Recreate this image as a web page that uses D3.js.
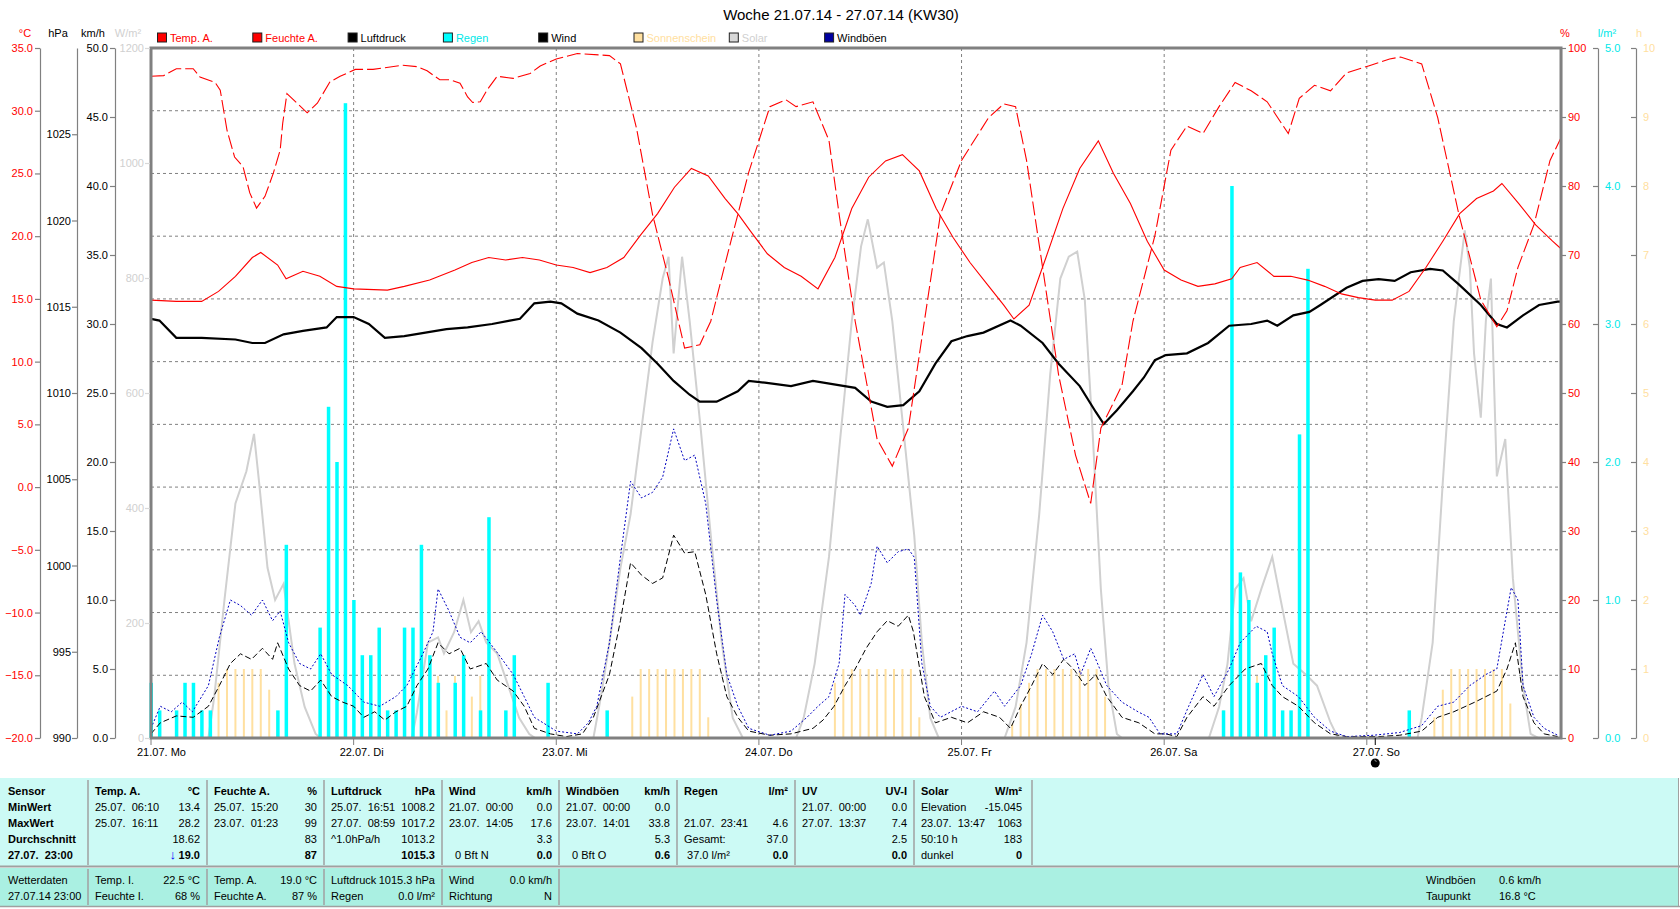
<!DOCTYPE html>
<html><head><meta charset="utf-8">
<script src="https://cdn.jsdelivr.net/npm/d3@7"></script>
<style>
body{margin:0;background:#fff;}
svg{display:block;}
text{font-family:"Liberation Sans",Arial,sans-serif;white-space:pre;}
</style>
</head><body>
<svg id="c" width="1680" height="909"></svg>
<script>
// ---------------- DATA ----------------
const title = "Woche 21.07.14 - 27.07.14 (KW30)";
const dayLabels = ["21.07. Mo","22.07. Di","23.07. Mi","24.07. Do","25.07. Fr","26.07. Sa","27.07. So"];
const totalHours = 167;

const tempA = [[0,14.9],[3,14.8],[6,14.8],[8,15.6],[10,16.8],[12,18.3],[13,18.7],[15,17.7],[16,16.6],[18,17.2],[20,16.8],[22,16.0],[24,15.8],[28,15.7],[30,16.0],[33,16.5],[36,17.3],[38,17.9],[40,18.3],[42,18.1],[44,18.3],[46,18.1],[48,17.7],[50,17.5],[52,17.1],[54,17.5],[56,18.3],[58,20.1],[60,21.8],[62,23.9],[64,25.4],[66,24.8],[68,23.0],[69.5,21.8],[71,20.4],[73,18.6],[75,17.5],[77,16.8],[79,15.8],[81,18.3],[83,22.2],[85,24.7],[87,26.0],[89,26.5],[91,25.2],[93,22.2],[95,19.9],[97,17.9],[99,16.2],[101,14.5],[102.2,13.4],[104,14.5],[106,18.3],[108,22.2],[110,25.4],[112.2,27.6],[114,25.0],[116,22.6],[118,19.6],[120,17.3],[122,16.5],[124,16.0],[126,16.2],[128,16.6],[129,17.5],[131,17.9],[133,16.8],[135,16.8],[137,16.5],[139,16.0],[141,15.4],[143,15.1],[145,14.9],[147,14.9],[149,15.6],[151,17.5],[153,19.6],[155,21.8],[157,23.0],[159,23.6],[160,24.2],[162,22.6],[164,20.9],[166,19.6],[167,19.0]];

const humA = [[0,95.9],[1.5,96.0],[3,97],[5,97],[5.8,95.8],[7.6,95],[8.2,93.9],[9,88.1],[9.9,84.2],[10.9,82.8],[11.7,79],[12.5,76.8],[13.5,78.5],[14.5,81.9],[15.3,85.2],[15.6,89.1],[16.1,93.4],[17.3,92],[18.5,90.6],[19.7,92],[21.2,95.1],[22.4,95.9],[24.2,96.9],[26.3,96.9],[29.8,97.5],[31.5,97.3],[32.7,96.7],[34.2,95.4],[35.4,95.4],[36.6,94.9],[37.5,92.9],[38.1,92.1],[39,92.2],[39.8,93.9],[41,95.9],[42.9,95.6],[44.9,96.3],[46.1,97.4],[48,98.4],[50.5,99.2],[54.3,98.9],[55.6,97.7],[57.5,88.4],[59.4,75.9],[61.3,66.6],[63.2,56.5],[65,57],[66.3,60.4],[68.2,69.7],[70.8,82],[73.3,91.5],[75.2,92.5],[76.4,91.5],[78.4,92.2],[80.3,86.6],[81.5,75.9],[83.4,60.4],[86,43.3],[87.8,39.4],[89.7,44.9],[91.6,60.4],[93.5,75.9],[96,83.7],[99.2,89.9],[101,91.9],[102.4,91.5],[103.7,83.7],[105.6,68.2],[107.5,52.6],[109.5,41],[111.3,34],[112.5,44.9],[115,51.1],[116.3,60.4],[118.9,72.8],[120.8,85.2],[122.7,88.7],[124.6,87.6],[126.5,91.5],[128.4,95],[130.3,93.8],[132.2,92.2],[134.7,87.6],[136,92.7],[137.8,94.6],[139.7,93.8],[141.6,96.4],[144.2,97.4],[146.7,98.4],[148,98.7],[150.5,97.7],[152.4,89.9],[154.9,75.9],[157.5,63.5],[159.4,59.6],[160.6,61.9],[161.9,68.2],[163.8,74.4],[165.7,83.7],[167,87]];

const pressure = [[0,1014.3],[1,1014.2],[3,1013.2],[6,1013.2],[10,1013.1],[12,1012.9],[13.5,1012.9],[15.7,1013.4],[18,1013.6],[20.8,1013.8],[22,1014.4],[24,1014.4],[25.8,1014.0],[27.7,1013.2],[30,1013.3],[32.5,1013.5],[35,1013.7],[37.5,1013.8],[40.4,1014.0],[42.5,1014.2],[43.7,1014.3],[45.4,1015.2],[47.3,1015.3],[48.6,1015.2],[50.5,1014.6],[53,1014.2],[55.6,1013.5],[58.1,1012.6],[60,1011.7],[61.9,1010.7],[63.8,1009.9],[65,1009.5],[67,1009.5],[69.5,1010.1],[70.8,1010.7],[72.7,1010.6],[75.8,1010.4],[78.4,1010.7],[80.9,1010.5],[83.4,1010.3],[85.3,1009.5],[87.2,1009.2],[89.1,1009.3],[91,1010.1],[92.9,1011.7],[94.8,1013.0],[96.7,1013.3],[98.6,1013.5],[101.8,1014.2],[103,1013.9],[105.6,1012.9],[107.5,1011.7],[110,1010.4],[111.9,1008.9],[112.85,1008.2],[114.4,1009.0],[116.3,1010.1],[117.6,1010.9],[118.9,1011.9],[120.2,1012.2],[122.7,1012.3],[125.2,1012.9],[127.7,1013.9],[130.3,1014.0],[132.2,1014.2],[133.4,1013.9],[135.3,1014.5],[137.2,1014.7],[138.5,1015.1],[141.6,1016.1],[143.5,1016.5],[145.4,1016.6],[147.3,1016.5],[149.2,1017.0],[151.5,1017.2],[153,1017.1],[154.9,1016.3],[157.5,1015.1],[159.4,1014.0],[160.6,1013.8],[162.5,1014.5],[164.4,1015.1],[166.6,1015.3],[167,1015.3]];

const wind = [[0,0.3],[1.1,1.1],[3,1.6],[5,1.5],[6.8,2.3],[8.1,3.8],[9.4,5.4],[10.6,6.1],[11.9,5.7],[13.2,6.5],[14.4,5.7],[15,6.9],[16.3,5.0],[17.6,3.8],[18.9,3.4],[20.1,4.2],[21.4,3.0],[22.7,2.6],[24,2.3],[25.2,1.5],[26.5,1.9],[27.7,1.3],[29,1.9],[30.3,2.3],[31.5,3.8],[32.8,5.0],[34,6.9],[35.3,6.1],[36.6,6.5],[37.8,5.0],[39.7,5.4],[41,4.2],[42.9,3.4],[44.2,2.3],[45.4,0.7],[47.3,0.3],[49.2,0.1],[51.1,0.3],[52.4,1.5],[54.3,4.6],[55.6,8.5],[56.8,12.7],[58.1,11.8],[59.4,11.2],[60.6,11.6],[61.9,14.7],[63.2,13.4],[64.4,13.5],[65.7,10.4],[67,6.1],[68.2,3.0],[69.5,1.5],[70.8,0.5],[73.3,0.2],[75.8,0.3],[78.4,0.7],[79.6,1.3],[80.9,2.3],[82.2,3.8],[83.4,5.0],[84.7,6.5],[86,7.7],[87.2,8.5],[88.5,8.1],[89.7,8.9],[90.3,7.7],[91.6,3.0],[92.9,1.1],[94.8,1.5],[96.7,1.1],[98.6,1.9],[100.5,1.5],[101.8,0.7],[103,2.3],[104.3,3.8],[105.6,5.4],[106.8,4.6],[108.1,5.7],[109.4,4.9],[110.6,3.8],[111.9,4.6],[113.2,3.0],[115,1.5],[117,1.1],[118.9,0.3],[120.2,0.3],[121.5,0.1],[122.7,1.5],[124.6,3.0],[125.9,2.3],[127.7,3.8],[129.6,5.0],[131.5,5.4],[132.8,3.8],[134,3.0],[135.9,2.3],[137.8,1.1],[139.7,0.3],[141.6,0.1],[145.4,0.1],[147.9,0.2],[150.5,0.5],[152.4,1.5],[154.3,1.9],[156.8,2.6],[159.4,3.4],[160.6,5.0],[161.6,6.9],[162.5,3.0],[163.8,1.1],[165,0.3],[166.6,0.1]];

const gusts = [[0,0.7],[1.1,2.3],[2.4,1.9],[3.7,2.6],[4.9,1.9],[6.8,3.8],[8.1,7.3],[9.4,10.0],[10.6,9.6],[11.9,8.9],[13.2,10.0],[14.4,8.5],[15.3,9.2],[16.3,6.9],[17.6,5.4],[18.9,5.0],[20.1,6.1],[21.4,4.6],[23.3,3.8],[25.2,2.6],[27.1,2.3],[29,3.0],[30.3,3.8],[32.2,6.1],[33.4,7.7],[34,10.8],[35.3,9.2],[36.6,7.3],[37.8,6.9],[39.1,7.7],[41,6.2],[42.9,4.6],[44.2,3.0],[45.4,1.5],[48,0.5],[50.5,0.3],[51.8,1.1],[52.8,2.3],[54.3,6.9],[55.6,13.1],[56.8,18.6],[58.1,17.4],[59.4,17.8],[60.6,18.9],[61.9,22.4],[63.2,20.1],[64.4,20.5],[65.7,17.0],[67,10.0],[68.2,4.6],[69.5,2.3],[70.8,0.7],[73.3,0.2],[75.8,0.5],[77.7,1.5],[79,2.3],[80.3,3.0],[81.5,5.4],[82.2,10.4],[83.4,9.6],[84,8.9],[85.3,11.2],[86,13.9],[87.2,12.7],[88.5,13.5],[89.7,13.7],[90.4,13.1],[91.3,5.4],[92.3,2.3],[93.5,1.5],[96,2.3],[97.9,1.9],[99.9,3.4],[101.1,2.3],[103,3.8],[104.3,6.1],[105.6,8.9],[106.8,7.7],[108.1,5.7],[109.4,6.1],[110.1,4.6],[111.3,6.5],[111.9,5.7],[113.2,3.8],[115,2.6],[116.9,1.9],[118.2,1.5],[119.5,0.3],[121.5,0.3],[122.9,2.3],[124.6,4.6],[125.9,3.0],[127.7,5.0],[129,6.9],[130.9,8.1],[132.2,7.7],[132.8,6.1],[134,3.8],[135.9,3.0],[137.8,1.5],[139.7,0.5],[141.6,0.1],[144.8,0.2],[147.9,0.4],[150.5,0.9],[152.4,2.3],[154.3,2.6],[156.2,3.8],[158.1,4.6],[159.4,5.0],[160.4,8.5],[161.1,10.9],[161.9,10.0],[162.5,3.8],[163.8,1.5],[165,0.7],[166.6,0.2]];

const solar = [[0,0],[6.8,0],[7.5,73],[8.7,240],[10,408],[11.3,464],[12.2,529],[12.8,445],[13.8,296],[14.7,240],[15.7,268],[17,129],[18.2,54],[19.5,7],[20.1,0],[30.9,0],[31.5,45],[32.8,166],[34,175],[34.7,147],[35.9,184],[37,240],[37.9,184],[38.8,203],[39.7,166],[41,147],[42.3,91],[43.6,35],[44.8,7],[45.5,0],[52.4,0],[53.3,73],[54.3,166],[55.6,296],[56.8,389],[58.1,539],[59.4,688],[60.6,799],[61.3,837],[61.9,669],[62.9,837],[63.8,725],[65.1,539],[66.3,352],[67.6,166],[68.9,35],[70.1,0],[76.4,0],[77.3,35],[78.6,129],[80.3,315],[81.5,501],[83,725],[84.1,855],[84.9,902],[86,818],[86.8,827],[87.8,725],[89.1,539],[90.4,352],[91.3,166],[92.3,35],[93.3,0],[101.1,0],[102.4,54],[103.7,166],[105.2,389],[106.5,632],[107.7,799],[108.7,837],[109.7,846],[110.6,762],[111.5,539],[112.5,259],[113.4,91],[114.4,7],[115,0],[125.3,0],[126.5,54],[127.5,129],[128.4,259],[129.4,278],[130.3,203],[131.5,259],[132.8,315],[133.8,240],[135.3,129],[136.8,110],[138.1,91],[139.7,27],[140.6,0],[150,0],[150.5,35],[151.8,166],[153,445],[154.3,725],[155.6,883],[156.2,818],[156.7,669],[157.5,557],[158.1,725],[158.7,799],[159.4,455],[160.4,520],[161.3,278],[162.5,91],[163.4,7],[164.3,0],[167,0]];

const rainHours = [0,1,3,4,5,6,7,15,16,20,21,22,23,24,25,26,27,28,29,30,31,32,33,34,36,37,39,40,42,43,47,54,127,128,129,130,131,132,133,134,135,136,137,149];
const rainValues = [0.4,0.2,0.2,0.4,0.4,0.2,0.2,0.2,1.4,0.8,2.4,2.0,4.6,1.0,0.6,0.6,0.8,0.2,0.2,0.8,0.8,1.4,0.6,0.4,0.4,0.6,0.2,1.6,0.2,0.6,0.4,0.2,0.2,4.0,1.2,1.0,0.4,0.6,0.8,0.2,0.2,2.2,3.4,0.2];

const sunHours = [8,9,10,11,12,13,14,15,32,33,34,35,36,37,38,39,40,57,58,59,60,61,62,63,64,65,66,81,82,83,84,85,86,87,88,89,90,91,102,103,104,105,106,107,108,109,110,111,112,113,127,128,129,130,131,132,133,134,152,153,154,155,156,157,158,159,160,161];
const sunValues = [0.8,1,1,1,1,1,0.7,0.3,0.6,0.6,0.9,0.4,0.9,0.3,0.6,0.9,0.4,0.6,1,1,1,1,1,1,1,1,0.3,0.8,1,1,1,1,1,1,1,1,1,0.3,0.2,0.5,0.8,1,1,1,1,1,1,1,1,0.6,0.4,0.8,0.9,0.8,0.9,0.8,0.5,0.3,0.3,0.7,1,1,1,1,1,1,1,0.5];

const legendNames = ["Temp. A.","Feuchte A.","Luftdruck","Regen","Wind","Sonnenschein","Solar","Windböen"];
const legendFill = ["#ff0000","#ff0000","#000000","#00ffff","#000000","#ffe0a0","#d8d8d8","#0000a0"];
const legendText = ["#ff0000","#ff0000","#000000","#00e8e8","#000000","#ffe0a0","#d0d0d0","#000000"];

// table
const colEdges = [0,88,207,324,442,559,677,795,914,1032];
const headRow = [["Sensor",""],["Temp. A.","°C"],["Feuchte A.","%"],["Luftdruck","hPa"],["Wind","km/h"],["Windböen","km/h"],["Regen","l/m²"],["UV","UV-I"],["Solar","W/m²"]];
const minRow = [["MinWert",""],["25.07.  06:10","13.4"],["25.07.  15:20","30"],["25.07.  16:51","1008.2"],["21.07.  00:00","0.0"],["21.07.  00:00","0.0"],["",""],["21.07.  00:00","0.0"],["Elevation","-15.045"]];
const maxRow = [["MaxWert",""],["25.07.  16:11","28.2"],["23.07.  01:23","99"],["27.07.  08:59","1017.2"],["23.07.  14:05","17.6"],["23.07.  14:01","33.8"],["21.07.  23:41","4.6"],["27.07.  13:37","7.4"],["23.07.  13:47","1063"]];
const avgRow = [["Durchschnitt",""],["","18.62"],["","83"],["^1.0hPa/h","1013.2"],["","3.3"],["","5.3"],["Gesamt:","37.0"],["","2.5"],["50:10 h","183"]];
const curRow = [["27.07.  23:00",""],["","19.0"],["","87"],["","1015.3"],["  0 Bft N","0.0"],["  0 Bft O","0.6"],[" 37.0 l/m²","0.0"],["","0.0"],["dunkel","0"]];
const infoEdges = [0,88,207,324,442,559];
const infoRow1 = [["Wetterdaten",""],["Temp. I.","22.5 °C"],["Temp. A.","19.0 °C"],["Luftdruck","1015.3 hPa"],["Wind","0.0 km/h"]];
const infoRow2 = [["27.07.14 23:00",""],["Feuchte I.","68 %"],["Feuchte A.","87 %"],["Regen","0.0 l/m²"],["Richtung","N"]];
const extraLabels = ["Windböen","Taupunkt"];
const extraValues = ["0.6 km/h","16.8 °C"];

// ---------------- DRAW ----------------
const FONT = '"Liberation Sans",Arial,sans-serif';
const svg = d3.select("#c");
const X0 = 151, X1 = 1561, Y0 = 48, Y1 = 738;
const x = d3.scaleLinear().domain([0, totalHours]).range([X0, X1]);
const yT = d3.scaleLinear().domain([-20, 35]).range([Y1, Y0]);
const yP = d3.scaleLinear().domain([990, 1030]).range([Y1, Y0]);
const yW = d3.scaleLinear().domain([0, 50]).range([Y1, Y0]);
const yS = d3.scaleLinear().domain([0, 1200]).range([Y1, Y0]);
const yH = d3.scaleLinear().domain([0, 100]).range([Y1, Y0]);
const yR = d3.scaleLinear().domain([0, 5]).range([Y1, Y0]);
const ySun = d3.scaleLinear().domain([0, 10]).range([Y1, Y0]);

// title
svg.append("text").attr("x", 841).attr("y", 20).attr("text-anchor", "middle")
  .attr("font-size", 15).attr("fill", "#000").text(title);

// unit labels
const units = [["°C", 25, "#ff0000"], ["hPa", 58, "#000"], ["km/h", 93, "#000"], ["W/m²", 128, "#d0d0d0"],
               ["%", 1565, "#ff0000"], ["l/m²", 1607, "#00e8e8"], ["h", 1639, "#ffe0a0"]];
units.forEach(u => svg.append("text").attr("x", u[1]).attr("y", 37).attr("text-anchor", "middle")
  .attr("font-size", 11).attr("fill", u[2]).text(u[0]));

// legend
legendNames.forEach((n, i) => {
  const lx = 162 + i * 95.3;
  svg.append("rect").attr("x", lx - 4.5).attr("y", 33).attr("width", 9).attr("height", 9)
    .attr("fill", legendFill[i]).attr("stroke", "#202020").attr("stroke-width", 1);
  svg.append("text").attr("x", lx + 8).attr("y", 41.5).attr("font-size", 11)
    .attr("fill", legendText[i]).text(n);
});

// gridlines
const grid = svg.append("g");
d3.range(-15, 35, 5).forEach(t => grid.append("line").attr("x1", X0).attr("x2", X1)
  .attr("y1", yT(t)).attr("y2", yT(t)).attr("stroke", "#808080").attr("stroke-dasharray", "3,3"));
d3.range(24, totalHours, 24).forEach(h => grid.append("line").attr("x1", x(h)).attr("x2", x(h))
  .attr("y1", Y0).attr("y2", Y1).attr("stroke", "#808080").attr("stroke-dasharray", "3,3"));

// sunshine bars
svg.append("g").selectAll("rect").data(sunHours).join("rect")
  .attr("x", (h) => x(h) - 1).attr("width", 2)
  .attr("y", (h, i) => ySun(sunValues[i])).attr("height", (h, i) => Y1 - ySun(sunValues[i]))
  .attr("fill", "#ffe0a0");

// solar line
const line = (ys) => d3.line().x(d => x(d[0])).y(d => ys(d[1]));
svg.append("path").datum(solar).attr("d", line(yS)).attr("fill", "none")
  .attr("stroke", "#d0d0d0").attr("stroke-width", 2);

// rain bars
svg.append("g").selectAll("rect").data(rainHours).join("rect")
  .attr("x", (h) => x(h) - 1.5).attr("width", 3.5)
  .attr("y", (h, i) => yR(rainValues[i])).attr("height", (h, i) => Y1 - yR(rainValues[i]))
  .attr("fill", "#00ffff");

// wind & gusts
svg.append("path").datum(wind).attr("d", line(yW)).attr("fill", "none")
  .attr("stroke", "#000").attr("stroke-width", 1).attr("stroke-dasharray", "6,3");
svg.append("path").datum(gusts).attr("d", line(yW)).attr("fill", "none")
  .attr("stroke", "#0000c0").attr("stroke-width", 1).attr("stroke-dasharray", "2,2");

// pressure
svg.append("path").datum(pressure).attr("d", line(yP)).attr("fill", "none")
  .attr("stroke", "#000").attr("stroke-width", 2.2);

// temp & humidity
svg.append("path").datum(tempA).attr("d", line(yT)).attr("fill", "none")
  .attr("stroke", "#ff0000").attr("stroke-width", 1.1);
svg.append("path").datum(humA).attr("d", line(yH)).attr("fill", "none")
  .attr("stroke", "#ff0000").attr("stroke-width", 1.1).attr("stroke-dasharray", "14,4");

// frame
svg.append("rect").attr("x", X0).attr("y", Y0).attr("width", X1 - X0).attr("height", Y1 - Y0)
  .attr("fill", "none").attr("stroke", "#808080").attr("stroke-width", 3);

// axes
function styleAxis(g, lc, tc) {
  g.attr("font-size", 11).attr("font-family", FONT);
  g.selectAll("path.domain").attr("stroke", lc).attr("stroke-width", 1.2);
  g.selectAll(".tick line").attr("stroke", lc).attr("stroke-width", 1.2);
  g.selectAll(".tick text").attr("fill", tc);
}
const f1 = d3.format(".1f");
styleAxis(svg.append("g").attr("transform", "translate(40,0)")
  .call(d3.axisLeft(yT).tickValues(d3.range(-20, 36, 5)).tickFormat(f1).tickSizeInner(5).tickSizeOuter(0).tickPadding(2)),
  "#808080", "#ff0000");
styleAxis(svg.append("g").attr("transform", "translate(77,0)")
  .call(d3.axisLeft(yP).tickValues(d3.range(990, 1026, 5)).tickFormat(d3.format("d")).tickSizeInner(5).tickSizeOuter(0).tickPadding(1)),
  "#808080", "#000");
styleAxis(svg.append("g").attr("transform", "translate(115,0)")
  .call(d3.axisLeft(yW).tickValues(d3.range(0, 51, 5)).tickFormat(f1).tickSizeInner(5).tickSizeOuter(0).tickPadding(2)),
  "#808080", "#000");
const gS = svg.append("g").attr("transform", "translate(150,0)")
  .call(d3.axisLeft(yS).tickValues(d3.range(0, 1201, 200)).tickFormat(d3.format("d")).tickSizeInner(5).tickSizeOuter(0).tickPadding(1));
styleAxis(gS, "#d8d8d8", "#d0d0d0");
gS.select("path.domain").remove();
styleAxis(svg.append("g").attr("transform", "translate(1561,0)")
  .call(d3.axisRight(yH).tickValues(d3.range(0, 101, 10)).tickFormat(d3.format("d")).tickSizeInner(5).tickSizeOuter(0).tickPadding(2)),
  "#808080", "#ff0000");
styleAxis(svg.append("g").attr("transform", "translate(1598,0)")
  .call(d3.axisRight(yR).tickValues(d3.range(0, 5.01, 1)).tickFormat(f1).tickSizeInner(-5).tickSizeOuter(0).tickPadding(7)),
  "#808080", "#00e8e8");
styleAxis(svg.append("g").attr("transform", "translate(1636,0)")
  .call(d3.axisRight(ySun).tickValues(d3.range(0, 11, 1)).tickFormat(d3.format("d")).tickSizeInner(-5).tickSizeOuter(0).tickPadding(7)),
  "#808080", "#ffe0a0");

// x axis
const xa = svg.append("g");
dayLabels.forEach((lab, i) => {
  const px = x(i * 24);
  xa.append("line").attr("x1", px).attr("x2", px).attr("y1", Y1).attr("y2", Y1 + 7).attr("stroke", "#808080");
  xa.append("text").attr("x", px - 14).attr("y", 756).attr("font-size", 11).attr("fill", "#000").text(lab);
});
// moon phase marker
const moonX = x(145);
xa.append("line").attr("x1", moonX).attr("x2", moonX).attr("y1", Y1).attr("y2", Y1 + 7).attr("stroke", "#000");
xa.append("circle").attr("cx", moonX).attr("cy", 763).attr("r", 4.5).attr("fill", "#000");
xa.append("path").attr("d", `M${moonX - 1},${760} a2,2 0 0,1 2,2`).attr("stroke", "#888").attr("fill", "none");

// ---------------- TABLE ----------------
const tbl = svg.append("g").attr("font-size", 11).attr("font-family", FONT);
tbl.append("rect").attr("x", 0).attr("y", 778).attr("width", 1679).attr("height", 88).attr("fill", "#ccfaf5");
tbl.append("rect").attr("x", 0).attr("y", 868).attr("width", 1679).attr("height", 38).attr("fill", "#aaf0e2");
tbl.append("line").attr("x1", 0).attr("x2", 1680).attr("y1", 866.5).attr("y2", 866.5).attr("stroke", "#a0a0a0").attr("stroke-width", 2);
tbl.append("line").attr("x1", 0).attr("x2", 1680).attr("y1", 906.5).attr("y2", 906.5).attr("stroke", "#a0a0a0").attr("stroke-width", 1.5);
tbl.append("line").attr("x1", 1678.5).attr("x2", 1678.5).attr("y1", 778).attr("y2", 907).attr("stroke", "#a0a0a0");
colEdges.slice(1).forEach(e => tbl.append("line").attr("x1", e).attr("x2", e).attr("y1", 780).attr("y2", 865)
  .attr("stroke", "#a0a0a0").attr("stroke-width", 1.5));
infoEdges.slice(1).forEach(e => tbl.append("line").attr("x1", e).attr("x2", e).attr("y1", 869).attr("y2", 905)
  .attr("stroke", "#a0a0a0").attr("stroke-width", 1.5));

const rowsTop = [headRow, minRow, maxRow, avgRow, curRow];
const rowY = [795, 811, 827, 843, 859];
rowsTop.forEach((row, r) => {
  row.forEach((cell, c) => {
    const l = colEdges[c] + (c === 0 ? 8 : 7);
    const rr = colEdges[c + 1] - (c === 8 ? 10 : 7);
    const boldLeft = (r === 0) || (c === 0);
    const boldRight = (r === 0) || (r === 4);
    if (cell[0]) tbl.append("text").attr("x", l).attr("y", rowY[r]).attr("font-weight", boldLeft ? "bold" : "normal").text(cell[0]);
    if (cell[1]) {
      tbl.append("text").attr("x", rr).attr("y", rowY[r]).attr("text-anchor", "end")
        .attr("font-weight", boldRight ? "bold" : "normal").text(cell[1]);
      if (r === 4 && c === 1) {
        tbl.append("text").attr("x", rr - 24).attr("y", rowY[r]).attr("text-anchor", "end")
          .attr("font-weight", "bold").attr("font-size", 13).attr("fill", "#0000ff").text("↓");
      }
    }
  });
});
[infoRow1, infoRow2].forEach((row, r) => {
  const yy = [884, 900][r];
  row.forEach((cell, c) => {
    const l = infoEdges[c] + (c === 0 ? 8 : 7);
    const rr = infoEdges[c + 1] - 7;
    if (cell[0]) tbl.append("text").attr("x", l).attr("y", yy).text(cell[0]);
    if (cell[1]) tbl.append("text").attr("x", rr).attr("y", yy).attr("text-anchor", "end").text(cell[1]);
  });
  tbl.append("text").attr("x", 1426).attr("y", yy).text(extraLabels[r]);
  tbl.append("text").attr("x", 1499).attr("y", yy).text(extraValues[r]);
});
</script>
</body></html>
